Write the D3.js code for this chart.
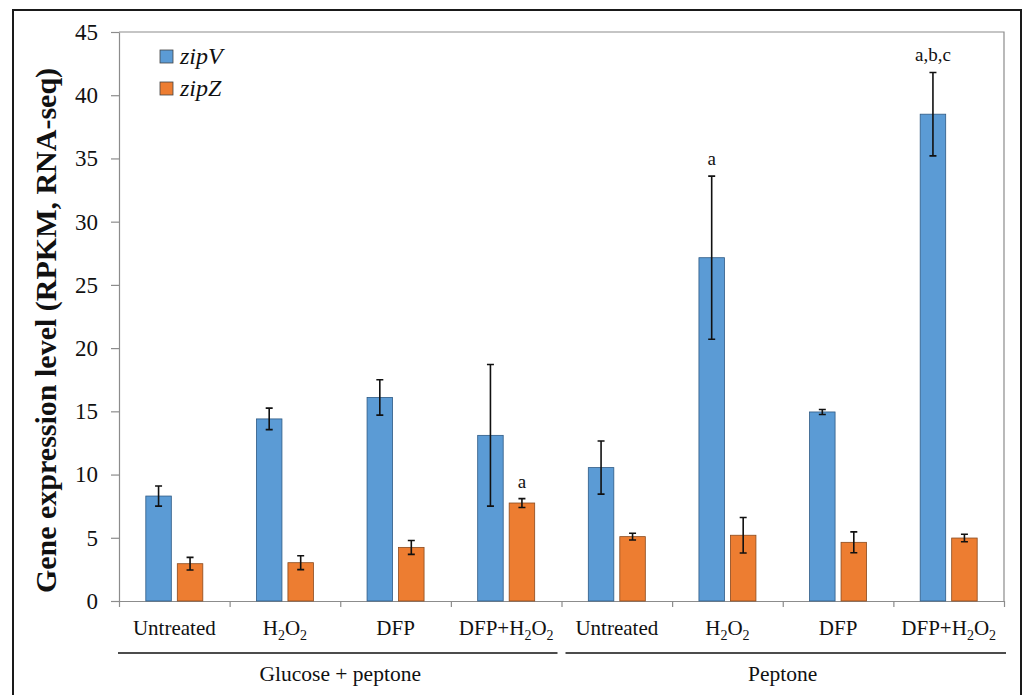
<!DOCTYPE html>
<html>
<head>
<meta charset="utf-8">
<script src="https://cdn.jsdelivr.net/npm/d3@7"></script>
<style>
  html, body { margin: 0; padding: 0; background: #fff; }
  svg { display: block; }
</style>
</head>
<body>
<script>
// data
const treatments = ["Untreated", "H2O2", "DFP", "DFP+H2O2", "Untreated", "H2O2", "DFP", "DFP+H2O2"];
const media = ["Glucose + peptone", "Peptone"];
const series = ["zipV", "zipZ"];
const zipV = [8.3, 14.4, 16.1, 13.1, 10.55, 27.15, 14.95, 38.5];
const zipVErr = [0.8, 0.85, 1.4, 5.6, 2.1, 6.45, 0.2, 3.3];
const zipZ = [2.95, 3.03, 4.24, 7.75, 5.09, 5.2, 4.64, 4.98];
const zipZErr = [0.5, 0.55, 0.55, 0.35, 0.27, 1.4, 0.83, 0.3];
const marks = [
  { group: 3, s: "zipZ", text: "a" },
  { group: 5, s: "zipV", text: "a" },
  { group: 7, s: "zipV", text: "a,b,c" }
];
const yTicks = [0, 5, 10, 15, 20, 25, 30, 35, 40, 45];

const width = 1024, height = 695;
const colors = { zipV: "#5b9bd5", zipZ: "#ed7d31" };
const serif = "'Liberation Serif', 'Times New Roman', serif";

const svg = d3.select("body").append("svg")
  .attr("width", width)
  .attr("height", height)
  .style("font-family", serif);

// outer frame
svg.append("rect")
  .attr("x", 13).attr("y", 10)
  .attr("width", 1008).attr("height", 700)
  .attr("fill", "none")
  .attr("stroke", "#1a1a1a")
  .attr("stroke-width", 2);

const pLeft = 119, pRight = 1004, pTop = 32, pBottom = 601;

const x = d3.scaleBand()
  .domain(d3.range(treatments.length))
  .range([pLeft, pRight]);

const bw = x.bandwidth();
const xs = d3.scaleBand()
  .domain(series)
  .range([bw / 2 - 28.5, bw / 2 + 28.5])
  .paddingInner(0.19);

const y = d3.scaleLinear().domain([0, 45]).range([pBottom, pTop]);

// plot box (top and right)
svg.append("path")
  .attr("d", `M${pLeft},${pTop}H${pRight}V${pBottom}`)
  .attr("fill", "none")
  .attr("stroke", "#8c8c8c")
  .attr("stroke-width", 1.2);

// y axis
const yAxis = svg.append("g")
  .attr("transform", `translate(${pLeft},0)`)
  .call(d3.axisLeft(y).tickValues(yTicks).tickSize(8).tickPadding(13).tickSizeOuter(0));
yAxis.attr("font-family", serif).attr("font-size", 23);
yAxis.select(".domain").attr("stroke", "#8c8c8c").attr("stroke-width", 1.2);
yAxis.selectAll(".tick line").attr("stroke", "#8c8c8c").attr("stroke-width", 1.2);
yAxis.selectAll(".tick text").attr("fill", "#111");

// x axis: line with ticks on group boundaries
const xb = d3.scaleLinear().domain([0, treatments.length]).range([pLeft, pRight]);
const xAxis = svg.append("g")
  .attr("transform", `translate(0,${pBottom})`)
  .call(d3.axisBottom(xb).ticks(treatments.length).tickSize(6).tickFormat("").tickSizeOuter(0));
xAxis.select(".domain").attr("stroke", "#8c8c8c").attr("stroke-width", 1.2);
xAxis.selectAll(".tick line").attr("stroke", "#8c8c8c").attr("stroke-width", 1.2);
xAxis.selectAll(".tick text").remove();

// bars
const rows = [];
treatments.forEach((t, i) => {
  rows.push({ group: i, s: "zipV", v: zipV[i], e: zipVErr[i] });
  rows.push({ group: i, s: "zipZ", v: zipZ[i], e: zipZErr[i] });
});

svg.append("g")
  .selectAll("rect")
  .data(rows)
  .join("rect")
  .attr("x", d => x(d.group) + xs(d.s))
  .attr("y", d => y(d.v))
  .attr("width", xs.bandwidth())
  .attr("height", d => y(0) - y(d.v))
  .attr("fill", d => colors[d.s])
  .attr("stroke", d => d.s === "zipV" ? "#2e5a84" : "#8a4a1e")
  .attr("stroke-width", 0.8);

// error bars
const cx = d => x(d.group) + xs(d.s) + xs.bandwidth() / 2;
const err = svg.append("g")
  .attr("stroke", "#111")
  .attr("stroke-width", 1.6)
  .attr("fill", "none");
err.selectAll("path")
  .data(rows)
  .join("path")
  .attr("d", d => {
    const c = cx(d), t = y(d.v + d.e), b = y(d.v - d.e);
    return `M${c},${t}V${b}M${c - 3.5},${t}H${c + 3.5}M${c - 3.5},${b}H${c + 3.5}`;
  });

// significance letters
svg.append("g")
  .selectAll("text")
  .data(marks)
  .join("text")
  .attr("x", d => cx(rows.find(r => r.group === d.group && r.s === d.s)))
  .attr("y", d => {
    const r = rows.find(r => r.group === d.group && r.s === d.s);
    return y(r.v + r.e) - 11;
  })
  .attr("text-anchor", "middle")
  .style("font-size", "19px")
  .attr("fill", "#111")
  .text(d => d.text);

// treatment labels with subscripts
const lab = svg.append("g")
  .selectAll("text")
  .data(treatments)
  .join("text")
  .attr("x", (d, i) => x(i) + bw / 2)
  .attr("y", 635)
  .attr("text-anchor", "middle")
  .style("font-size", "21px")
  .attr("fill", "#111");
lab.each(function (d) {
  const t = d3.select(this);
  let shifted = false;
  d.split(/(2)/).filter(p => p !== "").forEach(p => {
    if (p === "2") {
      t.append("tspan").attr("dy", 5).style("font-size", "14px").text("2");
      shifted = true;
    } else {
      t.append("tspan").attr("dy", shifted ? -5 : 0).text(p);
      shifted = false;
    }
  });
});

// media brackets
const groupSpans = [[0, 4], [4, 8]];
svg.append("g")
  .selectAll("line")
  .data(groupSpans)
  .join("line")
  .attr("x1", (d, i) => xb(d[0]) - 1 + i * 5)
  .attr("x2", (d, i) => xb(d[1]) - 4 + i * 6)
  .attr("y1", 653).attr("y2", 653)
  .attr("stroke", "#111")
  .attr("stroke-width", 1.6);

svg.append("g")
  .selectAll("text")
  .data(media)
  .join("text")
  .attr("x", (d, i) => (xb(groupSpans[i][0]) + xb(groupSpans[i][1])) / 2)
  .attr("y", 681)
  .attr("text-anchor", "middle")
  .style("font-size", "21.5px")
  .attr("fill", "#111")
  .text(d => d);

// y axis title
svg.append("text")
  .attr("transform", `translate(56,${(pTop + pBottom) / 2 + 14}) rotate(-90)`)
  .attr("text-anchor", "middle")
  .style("font-size", "30px")
  .style("font-weight", "bold")
  .attr("fill", "#111")
  .text("Gene expression level (RPKM, RNA-seq)");

// legend
const legend = svg.append("g")
  .selectAll("g")
  .data(series)
  .join("g")
  .attr("transform", (d, i) => `translate(160,${50 + i * 32})`);
legend.append("rect")
  .attr("width", 13).attr("height", 13)
  .attr("fill", d => colors[d])
  .attr("stroke", "#444")
  .attr("stroke-width", 0.8);
legend.append("text")
  .attr("x", 20).attr("y", 14)
  .style("font-size", "24px")
  .style("font-style", "italic")
  .attr("fill", "#111")
  .text(d => d);
</script>
</body>
</html>
